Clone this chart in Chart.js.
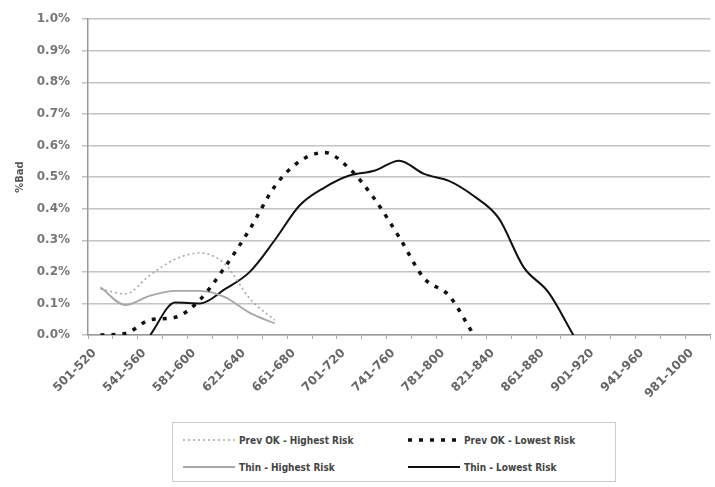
<!DOCTYPE html>
<html>
<head>
<meta charset="utf-8">
<script src="https://cdn.jsdelivr.net/npm/chart.js@4/dist/chart.umd.min.js"></script>
<style>
  body { margin: 0; background: #fff; }
  #wrap { position: relative; width: 715px; height: 487px; }
  #legend {
    position: absolute; left: 172px; top: 422px; width: 444px; height: 60px;
    border: 1px solid #ccc; box-sizing: border-box;
    font-family: "Liberation Sans Narrow", "DejaVu Sans Condensed", sans-serif;
    font-weight: bold; font-size: 10px; color: #444;
  }
  .item { position: absolute; display: flex; align-items: center; height: 14px; }
  .item svg { margin-right: 4px; }
</style>
</head>
<body>
<div id="wrap">
  <canvas id="riskChart" width="715" height="415"></canvas>
  <div id="legend"></div>
</div>
<script>
// score bands (20 points each)
const categories = [
  '501-520', '521-540', '541-560', '561-580', '581-600', '601-620', '621-640',
  '641-660', '661-680', '681-700', '701-720', '721-740', '741-760', '761-780',
  '781-800', '801-820', '821-840', '841-860', '861-880', '881-900', '901-920',
  '921-940', '941-960', '961-980', '981-1000'
];

// % bad per band
const prevOkHighest = [0.146, 0.13, 0.19, 0.24, 0.26, 0.225, 0.115, 0.047];
const prevOkLowest = [0.0, 0.005, 0.048, 0.056, 0.112, 0.215, 0.335, 0.47, 0.55, 0.578,
  0.527, 0.432, 0.31, 0.18, 0.125, 0.0];
const thinHighest = [0.151, 0.095, 0.125, 0.14, 0.14, 0.12, 0.07, 0.037];
const thinLowest = [null, null, 0.0, 0.103, 0.10, 0.145, 0.20, 0.30, 0.41, 0.467, 0.505,
  0.52, 0.552, 0.51, 0.488, 0.44, 0.37, 0.215, 0.135, 0.0];

const yTicks = [0, 0.1, 0.2, 0.3, 0.4, 0.5, 0.6, 0.7, 0.8, 0.9, 1.0];

const fontFace = '"DejaVu Sans", sans-serif';

function series(label, data, color, width, dash) {
  return {
    label: label,
    data: data,
    borderColor: color,
    borderWidth: width,
    borderDash: dash,
    pointRadius: 0,
    fill: false,
    cubicInterpolationMode: 'monotone',
    spanGaps: false
  };
}

const datasets = [
  series('Prev OK - Highest Risk', prevOkHighest, '#a8a8a8', 1.6, [2, 3]),
  series('Prev OK - Lowest Risk', prevOkLowest, '#111', 3.5, [4, 7]),
  series('Thin - Highest Risk', thinHighest, '#a8a8a8', 1.8, []),
  series('Thin - Lowest Risk', thinLowest, '#111', 2, [])
];

const ctx = document.getElementById('riskChart').getContext('2d');
const riskChart = new Chart(ctx, {
  type: 'line',
  data: { labels: categories, datasets: datasets },
  options: {
    responsive: false,
    animation: false,
    layout: { padding: { top: 10, left: 14, right: 0, bottom: 0 } },
    plugins: { legend: { display: false }, tooltip: { enabled: false } },
    scales: {
      x: {
        offset: true,
        grid: { display: true, offset: true, drawOnChartArea: false, tickLength: 4, color: '#aaa' },
        border: { color: '#999', width: 1.5 },
        ticks: {
          autoSkip: false,
          minRotation: 45,
          maxRotation: 45,
          padding: 7,
          labelOffset: -6,
          color: '#666',
          font: { family: fontFace, size: 12, weight: 'bold' },
          callback: function (value, index) {
            return index % 2 === 0 ? categories[index] : '';
          }
        },
        afterFit: function (scale) { scale.height = 80; }
      },
      y: {
        min: 0,
        max: 1.0,
        afterBuildTicks: function (scale) {
          scale.ticks = yTicks.map(v => ({ value: v }));
        },
        grid: { color: '#c4c4c4', lineWidth: 1.5, tickLength: 6 },
        border: { color: '#999', width: 1.5 },
        ticks: {
          padding: 12,
          color: '#777',
          font: { family: fontFace, size: 12, weight: 'bold' },
          callback: function (value) { return value.toFixed(1) + '%'; }
        },
        title: {
          display: true,
          text: '%Bad',
          color: '#555',
          font: { family: '"DejaVu Sans Condensed", sans-serif', size: 11, weight: 'bold' },
          padding: 0
        },
        afterFit: function (scale) { scale.width = 74; }
      }
    }
  }
});

// 2x2 legend box under the chart
const legendItems = [
  { ds: 0, left: 10, top: 10 },
  { ds: 1, left: 235, top: 10 },
  { ds: 2, left: 10, top: 37 },
  { ds: 3, left: 235, top: 37 }
];
const legendBox = document.getElementById('legend');
legendItems.forEach((item) => {
  const ds = datasets[item.ds];
  const dash = ds.borderDash.length ? ds.borderDash.join(',') : 'none';
  const div = document.createElement('div');
  div.className = 'item';
  div.style.left = item.left + 'px';
  div.style.top = item.top + 'px';
  div.innerHTML =
    '<svg width="52" height="8"><line x1="0" y1="4" x2="52" y2="4" stroke="' + ds.borderColor +
    '" stroke-width="' + ds.borderWidth + '" stroke-dasharray="' + dash + '"/></svg>' +
    '<span>' + ds.label + '</span>';
  legendBox.appendChild(div);
});
</script>
</body>
</html>
